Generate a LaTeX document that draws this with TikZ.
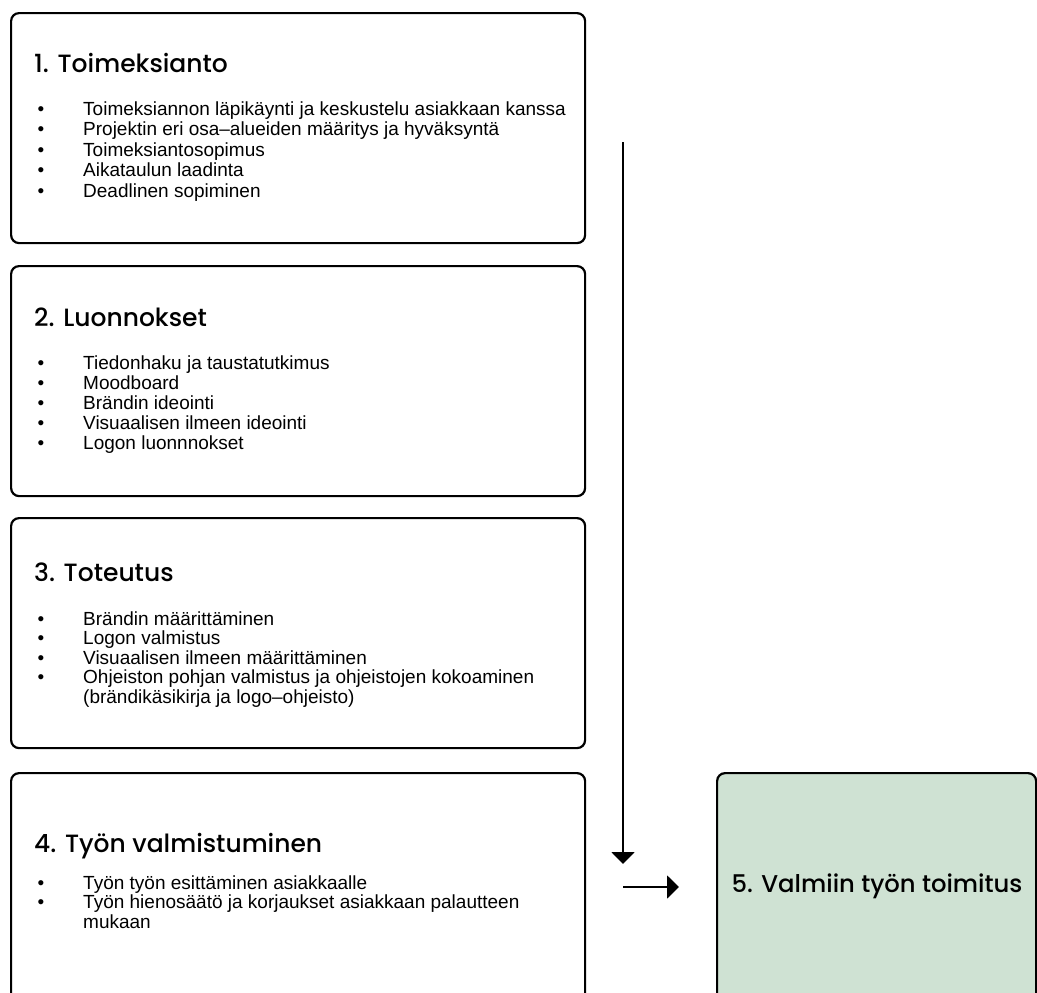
\documentclass[tikz,border=0pt]{standalone}
\usepackage{fontspec}
\setmainfont{Liberation Sans}
\newfontfamily\headfont{Poppins Medium}
\usetikzlibrary{arrows.meta}
\definecolor{sage}{RGB}{207,226,211}

\begin{document}
\begin{tikzpicture}[x=1pt,y=-1pt,
  stage/.style={draw=black, line width=2.2pt, rounded corners=8pt, inner sep=0pt,
    anchor=north west, minimum width=574pt, minimum height=230pt},
  head/.style={anchor=base west, inner sep=0pt, font=\headfont\fontsize{25}{30}\selectfont},
  item/.style={anchor=base west, inner sep=0pt, font=\fontsize{19}{22}\selectfont},
  dot/.style={anchor=base, inner sep=0pt, font=\fontsize{19}{22}\selectfont},
  flow/.style={line width=2pt, -{Triangle[length=12pt,width=23pt]}}]
\useasboundingbox (0,0) rectangle (1037,993);
\clip (0,0) rectangle (1037,993);

% stage frames
\node[stage] (s1) at (10,12) {};
\node[stage] (s2) at (10,265) {};
\node[stage] (s3) at (10,517) {};
\node[stage, minimum height=250pt] (s4) at (10,772) {};
\node[stage, fill=sage, minimum width=319pt, minimum height=250pt] (s5) at (716,772) {};

% 1. Toimeksianto
\node[head] (h1) at (34,72) {1. Toimeksianto};
\foreach \t [count=\i from 0] in {Toimeksiannon läpikäynti ja keskustelu asiakkaan kanssa,
    Projektin eri osa–alueiden määritys ja hyväksyntä,
    Toimeksiantosopimus, Aikataulun laadinta, Deadlinen sopiminen} {
  \node[dot] (d1\i) at (41,115+20.5*\i) {•};
  \node[item] (t1\i) at (83,115+20.5*\i) {\t};
}

% 2. Luonnokset
\node[head] (h2) at (34,326) {2. Luonnokset};
\foreach \t [count=\i from 0] in {Tiedonhaku ja taustatutkimus, Moodboard, Brändin ideointi,
    Visuaalisen ilmeen ideointi, Logon luonnnokset} {
  \node[dot] (d2\i) at (41,369+20*\i) {•};
  \node[item] (t2\i) at (83,369+20*\i) {\t};
}

% 3. Toteutus
\node[head] (h3) at (34,581) {3. Toteutus};
\foreach \t [count=\i from 0] in {Brändin määrittäminen, Logon valmistus,
    Visuaalisen ilmeen määrittäminen,
    Ohjeiston pohjan valmistus ja ohjeistojen kokoaminen} {
  \node[dot] (d3\i) at (41,625+19.5*\i) {•};
  \node[item] (t3\i) at (83,625+19.5*\i) {\t};
}
\node[item] (t3w) at (83,625+19.5*4) {(brändikäsikirja ja logo–ohjeisto)};

% 4. Työn valmistuminen
\node[head] (h4) at (34,852) {4. Työn valmistuminen};
\node[dot] (d40) at (41,889) {•};
\node[item] (t40) at (83,889) {Työn työn esittäminen asiakkaalle};
\node[dot] (d41) at (41,908.5) {•};
\node[item] (t41) at (83,908.5) {Työn hienosäätö ja korjaukset asiakkaan palautteen};
\node[item] (t41w) at (83,928) {mukaan};

% 5. Valmiin työn toimitus
\node[inner sep=0pt, font=\headfont\fontsize{24.3}{29}\selectfont] (h5) at (877,886) {5. Valmiin työn toimitus};

% flow arrows
\coordinate (vtop) at (623,142);
\coordinate (vend) at (623,864);
\coordinate (hstart) at (623,887);
\coordinate (hend) at (679,887);
\draw[flow] (vtop) -- (vend);
\draw[flow] (hstart) -- (hend);
\end{tikzpicture}
\end{document}
